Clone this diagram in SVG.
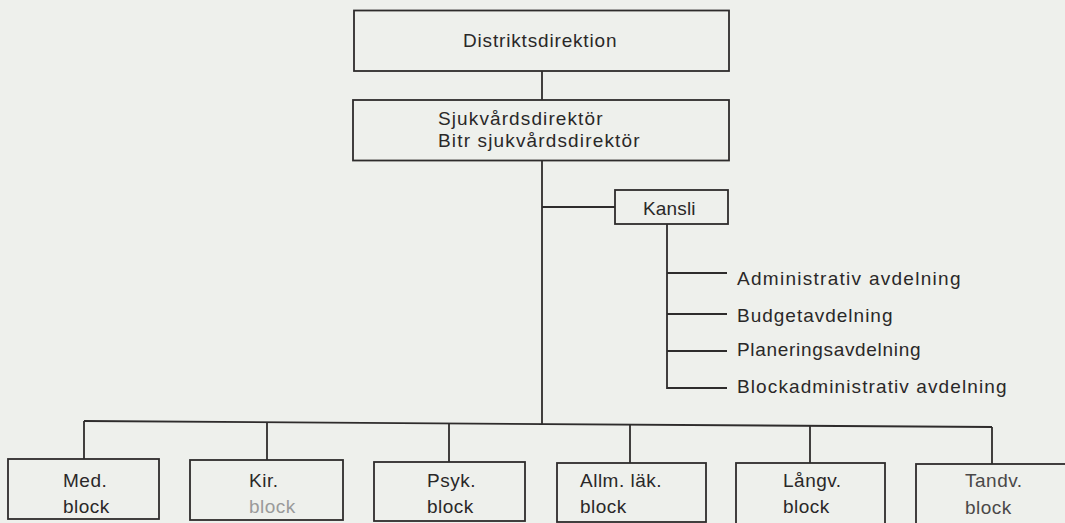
<svg xmlns="http://www.w3.org/2000/svg" width="1065" height="523" viewBox="0 0 1065 523">
  <style>
    .box { fill: none; stroke: #2e2c2c; stroke-width: 1.8; }
    .wire { fill: none; stroke: #2e2c2c; stroke-width: 1.8; }
    .lbl { font-family: "Liberation Sans", Arial, Helvetica, sans-serif; font-size: 19px; fill: #2a2828; letter-spacing: 0.5px; }
    .faded { fill: #9a9a9a; }
    .dim { fill: #4a4848; }
  </style>
  <rect x="0" y="0" width="1065" height="523" fill="#eef0ec"/>

  <g id="connectors">
    <line class="wire" x1="542" y1="71" x2="542" y2="100"/>
    <line class="wire" x1="542" y1="160" x2="542" y2="424"/>
    <line class="wire" x1="542" y1="207" x2="615" y2="207"/>
    <polyline class="wire" points="667,224 667,388 727,388"/>
    <line class="wire" x1="667" y1="273" x2="727" y2="273"/>
    <line class="wire" x1="667" y1="314" x2="727" y2="314"/>
    <line class="wire" x1="667" y1="351" x2="727" y2="351"/>
    <line class="wire" x1="84" y1="421" x2="992" y2="427"/>
    <line class="wire" x1="84" y1="421" x2="84" y2="459"/>
    <line class="wire" x1="267" y1="422.2" x2="267" y2="460"/>
    <line class="wire" x1="449" y1="423.4" x2="449" y2="462"/>
    <line class="wire" x1="630" y1="424.6" x2="630" y2="463"/>
    <line class="wire" x1="810" y1="425.8" x2="810" y2="463"/>
    <line class="wire" x1="992" y1="427" x2="992" y2="464"/>
  </g>

  <g id="distriktsdirektion">
    <rect class="box" x="354" y="10.5" width="375" height="60.5"/>
    <text class="lbl" x="463" y="47" textLength="154" lengthAdjust="spacing">Distriktsdirektion</text>
  </g>

  <g id="sjukvardsdirektor">
    <rect class="box" x="353" y="100" width="376" height="60.5"/>
    <text class="lbl" x="438" y="125" textLength="165" lengthAdjust="spacing">Sjukvårdsdirektör</text>
    <text class="lbl" x="438" y="147" textLength="202" lengthAdjust="spacing">Bitr  sjukvårdsdirektör</text>
  </g>

  <g id="kansli">
    <rect class="box" x="615" y="190" width="113" height="34"/>
    <text class="lbl" x="643" y="215" textLength="53" lengthAdjust="spacing">Kansli</text>
  </g>

  <g id="administrativ-avdelning">
    <text class="lbl" x="737" y="285" textLength="224" lengthAdjust="spacing">Administrativ  avdelning</text>
  </g>
  <g id="budgetavdelning">
    <text class="lbl" x="737" y="322" textLength="156" lengthAdjust="spacing">Budgetavdelning</text>
  </g>
  <g id="planeringsavdelning">
    <text class="lbl" x="737" y="356" textLength="184" lengthAdjust="spacing">Planeringsavdelning</text>
  </g>
  <g id="blockadministrativ-avdelning">
    <text class="lbl" x="737" y="393" textLength="270" lengthAdjust="spacing">Blockadministrativ  avdelning</text>
  </g>

  <g id="med-block">
    <rect class="box" x="8" y="459" width="151" height="60"/>
    <text class="lbl" x="63" y="487">Med.</text>
    <text class="lbl" x="63" y="513">block</text>
  </g>
  <g id="kir-block">
    <rect class="box" x="190" y="460" width="153" height="60"/>
    <text class="lbl" x="249" y="487">Kir.</text>
    <text class="lbl faded" x="249" y="513">block</text>
  </g>
  <g id="psyk-block">
    <rect class="box" x="374" y="462" width="151" height="59"/>
    <text class="lbl" x="427" y="487">Psyk.</text>
    <text class="lbl" x="427" y="513">block</text>
  </g>
  <g id="allm-lak-block">
    <rect class="box" x="557" y="463" width="149" height="59"/>
    <text class="lbl" x="580" y="487">Allm.  läk.</text>
    <text class="lbl" x="580" y="513">block</text>
  </g>
  <g id="langv-block">
    <rect class="box" x="736" y="463" width="149" height="62"/>
    <text class="lbl" x="783" y="487">Långv.</text>
    <text class="lbl" x="783" y="513">block</text>
  </g>
  <g id="tandv-block">
    <rect class="box" x="916" y="464" width="160" height="62"/>
    <text class="lbl dim" x="965" y="487">Tandv.</text>
    <text class="lbl dim" x="965" y="514">block</text>
  </g>
</svg>
